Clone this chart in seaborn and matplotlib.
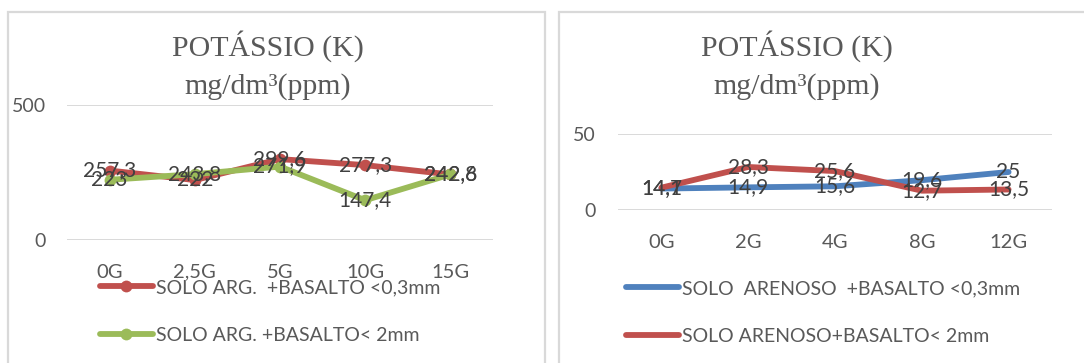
import matplotlib
matplotlib.use("Agg")
import matplotlib.pyplot as plt
from matplotlib.patches import Rectangle
import seaborn as sns
import pandas as pd

# Argiloso soil doses and potassium readings (mg/dm3)
doses_arg = ["0G", "2,5G", "5G", "10G", "15G"]
k_arg_fino = [257.3, 222, 299.6, 277.3, 242.6]
k_arg_grosso = [223, 243.8, 271.9, 147.4, 242.8]
serie_arg_fino = "SOLO ARG.  +BASALTO <0,3mm"
serie_arg_grosso = "SOLO ARG. +BASALTO< 2mm"

# Arenoso soil doses and potassium readings (mg/dm3)
doses_are = ["0G", "2G", "4G", "8G", "12G"]
k_are_fino = [14.1, 14.9, 15.6, 19.6, 25]
k_are_grosso = [14.7, 28.3, 25.6, 12.7, 13.5]
serie_are_fino = "SOLO  ARENOSO  +BASALTO <0,3mm"
serie_are_grosso = "SOLO ARENOSO+BASALTO< 2mm"

titulo = "POTÁSSIO (K)"
subtitulo = "mg/dm³(ppm)"

RED = "#C0504D"
GREEN = "#9BBB59"
BLUE = "#4F81BD"
TXT = "#595959"
LBL = "#404040"
GRID = "#D9D9D9"

sns.set_theme(style="white")
plt.rcParams["font.family"] = ["Lato", "DejaVu Sans"]

W, H = 1084, 363
fig = plt.figure(figsize=(W / 100, H / 100), dpi=100)


def px_axes(x0, y0, x1, y1):
    return fig.add_axes([x0 / W, 1 - y1 / H, (x1 - x0) / W, (y1 - y0) / H])


# panel frames
for (x0, y0, x1, y1) in [(8, 12, 545, 375), (559, 12, 1100, 375)]:
    fig.patches.append(Rectangle((x0 / W, 1 - y1 / H), (x1 - x0) / W, (y1 - y0) / H,
                                 transform=fig.transFigure, fill=False,
                                 edgecolor=GRID, linewidth=1.6, zorder=0))


def style_axis(ax, ymax, pad_y):
    ax.set_ylim(0, ymax)
    ax.set_yticks([0, ymax])
    ax.set_xlim(-0.5, 4.5)
    for s in ax.spines.values():
        s.set_visible(False)
    ax.grid(False)
    for y in (0, ymax):
        ax.axhline(y, color=GRID, linewidth=1.4, zorder=0)
    ax.tick_params(axis="both", length=0, labelsize=14.5, labelcolor=TXT)
    ax.tick_params(axis="y", pad=pad_y, labelsize=14)
    ax.tick_params(axis="x", pad=17)
    ax.set_xlabel("")
    ax.set_ylabel("")
    ax.set_facecolor("none")


def add_labels(ax, vals):
    for i, v in enumerate(vals):
        txt = f"{v:g}".replace(".", ",")
        ax.text(i, v, txt, ha="center", va="center", fontsize=15, color=LBL, zorder=5)


LEG = dict(loc="upper left", bbox_transform=fig.transFigure, frameon=False,
           fontsize=14, handlelength=2.7, handletextpad=0.2, labelspacing=1.6,
           labelcolor=TXT, borderaxespad=0, borderpad=0)

# left: argiloso
df_arg = pd.DataFrame({
    "dose": doses_arg * 2,
    "K": k_arg_fino + k_arg_grosso,
    "serie": [serie_arg_fino] * 5 + [serie_arg_grosso] * 5,
})
axl = px_axes(67, 105, 493, 240)
sns.lineplot(data=df_arg, x="dose", y="K", hue="serie", palette=[RED, GREEN],
             marker="o", markersize=8.5, markeredgewidth=0, linewidth=4.2,
             sort=False, ax=axl)
style_axis(axl, 500, 15)
add_labels(axl, k_arg_fino)
add_labels(axl, k_arg_grosso)
h, l = axl.get_legend_handles_labels()
axl.legend(h, l, bbox_to_anchor=(100 / W, 1 - 279 / H), **LEG)

# right: arenoso
df_are = pd.DataFrame({
    "dose": doses_are * 2,
    "K": k_are_fino + k_are_grosso,
    "serie": [serie_are_fino] * 5 + [serie_are_grosso] * 5,
})
axr = px_axes(618, 134, 1052, 210)
sns.lineplot(data=df_are, x="dose", y="K", hue="serie", palette=[BLUE, RED],
             linewidth=4.2, sort=False, ax=axr)
style_axis(axr, 50, 16)
add_labels(axr, k_are_fino)
add_labels(axr, k_are_grosso)
h, l = axr.get_legend_handles_labels()
axr.legend(h, l, bbox_to_anchor=(626 / W, 1 - 280 / H), **LEG)

# chart titles
for cx in (268, 797):
    fig.text(cx / W, 1 - 46 / H, titulo, ha="center", va="center",
             family="Liberation Serif", fontsize=21.5, color=TXT)
    fig.text(cx / W, 1 - 87 / H, subtitulo, ha="center", va="center",
             family="Liberation Serif", fontsize=21.5, color=TXT)

fig.savefig("out.png", dpi=100, facecolor="white")
